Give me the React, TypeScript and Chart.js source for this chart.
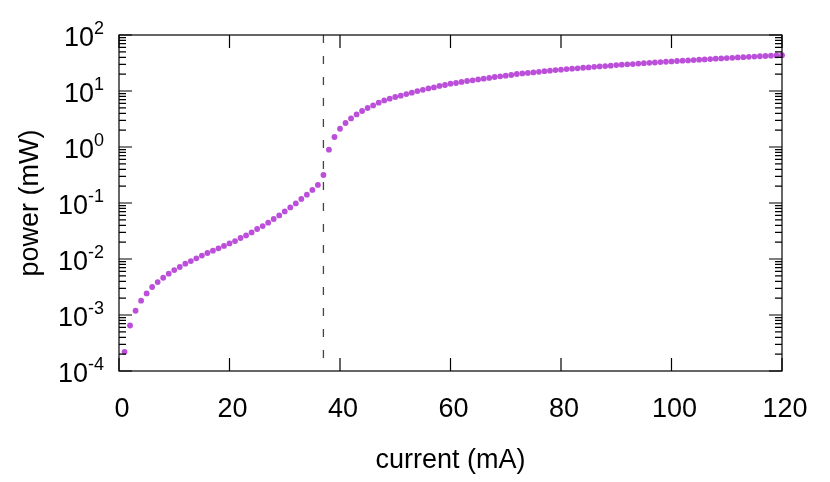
import React, { useEffect, useRef } from "react";
import { Chart, registerables } from "chart.js";

Chart.register(...registerables);

// ---- data ----
const currents: number[] = [
  1, 2, 3, 4, 5, 6, 7, 8, 9, 10, 11, 12, 13, 14, 15, 16, 17, 18, 19, 20,
  21, 22, 23, 24, 25, 26, 27, 28, 29, 30, 31, 32, 33, 34, 35, 36, 37, 38, 39, 40,
  41, 42, 43, 44, 45, 46, 47, 48, 49, 50, 51, 52, 53, 54, 55, 56, 57, 58, 59, 60,
  61, 62, 63, 64, 65, 66, 67, 68, 69, 70, 71, 72, 73, 74, 75, 76, 77, 78, 79, 80,
  81, 82, 83, 84, 85, 86, 87, 88, 89, 90, 91, 92, 93, 94, 95, 96, 97, 98, 99, 100,
  101, 102, 103, 104, 105, 106, 107, 108, 109, 110, 111, 112, 113, 114, 115, 116, 117, 118, 119, 120,
];

const powers: number[] = [
  2.2e-4, 6.5e-4, 1.19e-3, 1.8e-3, 2.43e-3, 3.16e-3, 3.88e-3, 4.63e-3, 5.46e-3, 6.35e-3,
  7.19e-3, 8.24e-3, 9.2e-3, 1.03e-2, 1.15e-2, 1.28e-2, 1.41e-2, 1.55e-2, 1.71e-2, 1.9e-2,
  2.09e-2, 2.37e-2, 2.64e-2, 2.98e-2, 3.43e-2, 3.88e-2, 4.45e-2, 5.18e-2, 6.01e-2, 7.08e-2,
  8.34e-2, 9.84e-2, 0.118, 0.141, 0.171, 0.21, 0.316, 0.895, 1.51, 2.12,
  2.68, 3.24, 3.82, 4.39, 4.97, 5.53, 6.18, 6.79, 7.29, 7.81,
  8.24, 8.83, 9.33, 9.98, 10.5, 11.1, 11.6, 12.3, 12.8, 13.5,
  13.9, 14.5, 15.1, 15.5, 16.1, 16.6, 17.1, 17.8, 18.3, 18.8,
  19.3, 20.1, 20.6, 21.0, 21.5, 22.0, 22.6, 23.1, 23.6, 24.0,
  24.6, 25.0, 25.4, 26.0, 26.4, 27.0, 27.5, 27.9, 28.3, 29.0,
  29.5, 29.9, 30.3, 30.9, 31.4, 31.9, 32.3, 32.8, 33.3, 33.8,
  34.3, 34.8, 35.2, 35.7, 36.2, 36.7, 37.2, 37.7, 38.2, 38.7,
  39.2, 39.7, 40.2, 40.7, 41.2, 41.7, 42.2, 42.7, 43.2, 43.7,
];

const xTicks: number[] = [0, 20, 40, 60, 80, 100, 120];
const yExponents: number[] = [-4, -3, -2, -1, 0, 1, 2];
const minorMultipliers: number[] = [2, 3, 4, 5, 6, 7, 8, 9];
const thresholdCurrent = 37;
const xTitle = "current (mA)";
const yTitle = "power (mW)";

const FONT = '"Liberation Sans", Arial, Helvetica, sans-serif';
const MAIN = 27;
const EXP = 18;

const gnuplotFrame = {
  id: "gnuplotFrame",
  beforeDatasetsDraw(chart: any) {
    const { ctx, chartArea: a, scales } = chart;
    const px = scales.x.getPixelForValue(thresholdCurrent);
    ctx.save();
    ctx.strokeStyle = "#444444";
    ctx.lineWidth = 1.3;
    ctx.setLineDash([8, 13]);
    ctx.beginPath();
    ctx.moveTo(px, a.top);
    ctx.lineTo(px, a.bottom);
    ctx.stroke();
    ctx.restore();
  },
  afterDraw(chart: any) {
    const { ctx, chartArea: a, scales } = chart;
    const xs = scales.x;
    const ys = scales.y;
    ctx.save();
    ctx.strokeStyle = "#000";
    ctx.lineWidth = 1.2;
    ctx.setLineDash([]);
    ctx.strokeRect(a.left, a.top, a.right - a.left, a.bottom - a.top);

    const major = 13;
    const minor = 7;
    ctx.beginPath();
    for (const v of xTicks) {
      const px = xs.getPixelForValue(v);
      ctx.moveTo(px, a.bottom);
      ctx.lineTo(px, a.bottom - major);
      ctx.moveTo(px, a.top);
      ctx.lineTo(px, a.top + major);
    }
    for (const e of yExponents) {
      const py = ys.getPixelForValue(Math.pow(10, e));
      ctx.moveTo(a.left, py);
      ctx.lineTo(a.left + major, py);
      ctx.moveTo(a.right, py);
      ctx.lineTo(a.right - major, py);
      if (e < 2) {
        for (const m of minorMultipliers) {
          const pm = ys.getPixelForValue(m * Math.pow(10, e));
          ctx.moveTo(a.left, pm);
          ctx.lineTo(a.left + minor, pm);
          ctx.moveTo(a.right, pm);
          ctx.lineTo(a.right - minor, pm);
        }
      }
    }
    ctx.stroke();

    ctx.fillStyle = "#000";
    // x tick labels
    ctx.font = `${MAIN}px ${FONT}`;
    ctx.textAlign = "center";
    ctx.textBaseline = "alphabetic";
    for (const v of xTicks) {
      const px = xs.getPixelForValue(v);
      ctx.fillText(String(v), px + 3, a.bottom + 46);
    }

    // y tick labels 10^e
    const rightEdge = a.left - 15;
    for (const e of yExponents) {
      const py = ys.getPixelForValue(Math.pow(10, e));
      const exp = String(e);
      ctx.font = `${EXP}px ${FONT}`;
      const ew = ctx.measureText(exp).width;
      ctx.font = `${MAIN}px ${FONT}`;
      const bw = ctx.measureText("10").width;
      ctx.textAlign = "left";
      ctx.fillText("10", rightEdge - ew - bw, py + 10.5);
      ctx.font = `${EXP}px ${FONT}`;
      ctx.fillText(exp, rightEdge - ew, py - 1);
    }

    // axis titles
    ctx.font = `${MAIN}px ${FONT}`;
    ctx.textAlign = "center";
    ctx.fillText(xTitle, (a.left + a.right) / 2, 468);
    ctx.save();
    ctx.translate(38, (a.top + a.bottom) / 2);
    ctx.rotate(-Math.PI / 2);
    ctx.fillText(yTitle, 0, 0);
    ctx.restore();
    ctx.restore();
  },
};

export default function App() {
  const canvasRef = useRef<HTMLCanvasElement | null>(null);

  useEffect(() => {
    if (!canvasRef.current) return;
    const chart = new Chart(canvasRef.current, {
      type: "scatter",
      data: {
        datasets: [
          {
            label: "power",
            data: currents.map((c, i) => ({ x: c, y: powers[i] })),
            backgroundColor: "#BC4FDA",
            borderColor: "#BC4FDA",
            pointRadius: 2.9,
            pointBorderWidth: 0,
            pointHoverRadius: 2.9,
            clip: false as any,
          },
        ],
      },
      options: {
        animation: false,
        responsive: false,
        devicePixelRatio: 1,
        events: [],
        layout: { padding: { left: 119, top: 35, right: 48, bottom: 111 } },
        plugins: {
          legend: { display: false },
          tooltip: { enabled: false },
        },
        scales: {
          x: { type: "linear", min: 0, max: 120, display: false },
          y: { type: "logarithmic", min: 1e-4, max: 100, display: false },
        },
      },
      plugins: [gnuplotFrame],
    });
    return () => chart.destroy();
  }, []);

  return (
    <div style={{ position: "fixed", left: 0, top: 0, width: 830, height: 482, background: "#fff" }}>
      <canvas ref={canvasRef} width={830} height={482} style={{ width: 830, height: 482 }} />
    </div>
  );
}
